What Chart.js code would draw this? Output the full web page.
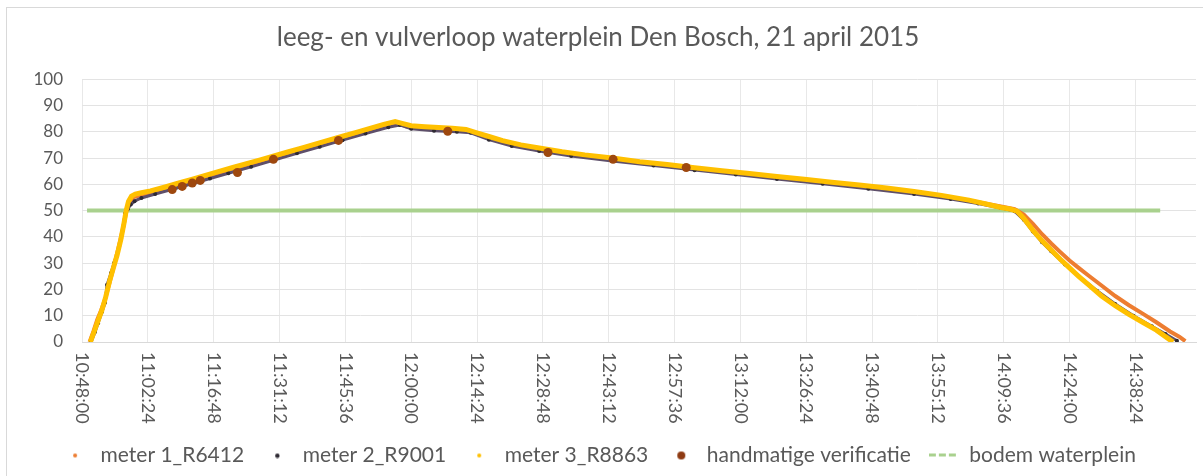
<!DOCTYPE html>
<html>
<head>
<meta charset="utf-8">
<script src="https://cdn.jsdelivr.net/npm/chart.js"></script>
<style>
  html, body { margin: 0; padding: 0; background: #fff; }
  canvas { display: block; }
</style>
</head>
<body>
<canvas id="line-chart" width="1203" height="476"></canvas>
<script>
// tijden (hh:mm:ss) en waterstanden
var meter1Tijd = ["10:49:40","10:50:30","10:51:20","10:52:10","10:53:00","10:54:00","10:55:00","10:56:00","10:57:00","10:57:40","10:58:20","10:59:10","11:01:00","11:05:00","11:10:00","11:15:00","11:20:00","11:25:00","11:30:00","11:35:00","11:40:00","11:45:00","11:50:00","11:55:00","11:57:00","11:59:00","12:04:00","12:10:00","12:13:00","12:17:00","12:22:00","12:28:00","12:35:00","12:44:00","12:53:00","13:02:00","13:11:00","13:20:00","13:30:00","13:40:00","13:50:00","13:58:00","14:04:00","14:09:00","14:12:00","14:14:00","14:16:00","14:18:00","14:20:00","14:22:00","14:24:00","14:26:00","14:28:00","14:31:00","14:34:00","14:37:00","14:40:00","14:43:00","14:46:00","14:48:00","14:49:20"];
var meter1Waarde = [0,4,8.5,12,16,22.5,29,36,43.5,49.5,53,55,56,57.8,60.2,62.8,65.4,67.8,70.2,72.7,75.2,77.6,80.2,82.6,83.3,82,81.2,80.7,80.2,77.8,75.3,73.3,71.5,69.6,67.9,66,64.3,62.6,60.9,59,57,55,53.2,51.6,50.6,48.5,45,41,37.5,34.2,31,28.2,25.5,21.5,17.5,14,10.8,7.5,4,2,0.3];

var meter2Tijd = ["10:50:00","10:50:51","10:51:30","10:52:23","10:53:02","10:53:29","10:54:21","10:55:01","10:55:40","10:56:07","10:56:33","10:57:00","10:57:25","10:58:00","10:58:40","10:59:30","11:01:00","11:04:00","11:08:00","11:12:00","11:16:00","11:20:00","11:25:00","11:30:00","11:35:00","11:40:00","11:45:00","11:50:00","11:55:00","11:57:30","12:00:00","12:05:00","12:10:00","12:13:00","12:17:00","12:22:00","12:28:00","12:35:00","12:44:00","12:53:00","13:02:00","13:11:00","13:20:00","13:30:00","13:40:00","13:50:00","13:58:00","14:04:00","14:09:00","14:12:00","14:14:00","14:16:00","14:18:00","14:20:00","14:23:00","14:26:00","14:30:00","14:34:00","14:38:00","14:42:00","14:45:00","14:47:30"];
var meter2Waarde = [0,3.8,7.1,11.5,14.9,21.8,26.3,30.1,33.2,36.3,39.3,43.9,48.9,50.5,52.3,53.6,54.8,56.3,58.2,60.2,62.2,64.2,66.7,69.2,71.8,74.3,76.8,79.3,81.7,82.6,81.1,80.4,80,79.6,77,74.6,72.7,70.8,68.9,67.2,65.4,63.7,62,60.2,58.3,56.3,54.4,52.7,51,49.8,46.5,42,38,34.5,29.5,25,19.5,14.5,10,6,3,0.5];

var meter3Tijd = ["10:49:50","10:50:40","10:51:30","10:52:20","10:53:10","10:54:00","10:54:50","10:55:40","10:56:30","10:57:10","10:57:40","10:58:10","10:58:50","10:59:40","11:01:00","11:03:00","11:06:00","11:09:00","11:12:00","11:15:00","11:18:00","11:21:00","11:24:00","11:27:00","11:30:00","11:33:00","11:36:00","11:39:00","11:42:00","11:45:00","11:48:00","11:51:00","11:54:00","11:56:30","11:58:00","12:00:00","12:03:00","12:06:00","12:09:00","12:12:00","12:14:00","12:17:00","12:20:00","12:24:00","12:28:00","12:33:00","12:38:00","12:44:00","12:50:00","12:56:00","13:02:00","13:08:00","13:14:00","13:20:00","13:26:00","13:32:00","13:38:00","13:44:00","13:50:00","13:56:00","14:02:00","14:06:00","14:09:00","14:11:00","14:12:30","14:14:00","14:16:00","14:18:00","14:20:00","14:22:00","14:24:00","14:26:00","14:28:00","14:31:00","14:34:00","14:37:00","14:40:00","14:43:00","14:45:50","14:46:40"];
var meter3Waarde = [0,4,8,12,17,23,28,33,39,45,50,53.5,55.5,56.3,56.8,57.5,58.9,60.4,61.9,63.4,64.9,66.4,67.9,69.3,70.8,72.3,73.8,75.3,76.8,78.3,79.8,81.3,82.8,83.9,83.2,82.3,81.9,81.6,81.3,80.9,79.8,78.2,76.6,75,73.8,72.4,71.2,70,68.6,67.5,66.3,65.2,64.1,63,61.9,60.8,59.7,58.6,57.3,55.8,54,52.4,51.2,50.6,49.8,47,42.5,38.5,35,31.5,28.2,25,22,17.5,13.8,10.5,7.5,4.5,1,0];

var handTijd = ["11:07:44","11:09:55","11:12:07","11:13:52","11:22:00","11:29:52","11:44:06","12:08:00","12:29:55","12:44:10","13:00:10"];
var handWaarde = [58,59.2,60.5,61.5,64.5,69.5,76.7,80.2,72.1,69.5,66.4];

var bodemTijd = ["10:49:06","14:43:50"];
var bodemWaarde = [50,50];

// labels onder de tijdas
var tijdLabels = ["10:48:00","11:02:24","11:16:48","11:31:12","11:45:36","12:00:00","12:14:24","12:28:48","12:43:12","12:57:36","13:12:00","13:26:24","13:40:48","13:55:12","14:09:36","14:24:00","14:38:24"];
var asStart = "10:48:00";
var asEind = "14:51:40";

function sec(t) {
  var p = t.split(":");
  return (+p[0]) * 3600 + (+p[1]) * 60 + (+p[2] || 0);
}
function tijdLabel(s) {
  s = Math.round(s);
  var h = Math.floor(s / 3600), m = Math.floor((s % 3600) / 60), x = s % 60;
  return h + ":" + String(m).padStart(2, "0") + ":" + String(x).padStart(2, "0");
}
function punten(tijden, waarden) {
  return tijden.map(function (t, i) { return { x: sec(t), y: waarden[i] }; });
}

// kleine markers voor de legenda
function marker(w, h, teken) {
  var c = document.createElement("canvas");
  c.width = w; c.height = h;
  teken(c.getContext("2d"), w, h);
  return c;
}
function rondje(kleur, r) {
  return marker(2 * r + 2, 2 * r + 2, function (g, w, h) {
    g.fillStyle = kleur; g.beginPath(); g.arc(w / 2, h / 2, r, 0, Math.PI * 2); g.fill();
  });
}
var legendaMarkers = [
  rondje("#ED7D31", 2),
  rondje("#2E2A33", 2.2),
  rondje("#FFC000", 2),
  rondje("#8E3A12", 4),
  marker(30, 6, function (g) {
    g.fillStyle = "#A9D18E";
    for (var i = 0; i < 3; i++) g.fillRect(i * 10, 1, 7, 3);
  })
];

var grijs = "#595959";
var font = "Lato, 'Noto Sans', sans-serif";

var extra = {
  id: "extra",
  beforeDraw: function (chart) {
    var g = chart.ctx;
    g.save();
    g.strokeStyle = "#D9D9D9";
    g.lineWidth = 1;
    g.strokeRect(6.5, 7.5, 1300, 600);
    g.restore();
  },
  afterDraw: function (chart) {
    // tijdlabels van boven naar beneden leesbaar, zoals in Excel
    var xs = chart.scales.x, g = chart.ctx;
    g.save();
    g.fillStyle = grijs;
    g.font = "18px " + font;
    g.textAlign = "left";
    g.textBaseline = "middle";
    xs.ticks.forEach(function (t) {
      var px = xs.getPixelForValue(t.value);
      g.save();
      g.translate(px, xs.top + 10);
      g.rotate(Math.PI / 2);
      g.fillText(tijdLabel(t.value), 0, 0);
      g.restore();
    });
    g.restore();
  }
};

new Chart(document.getElementById("line-chart"), {
  type: "scatter",
  data: {
    datasets: [{
      label: "meter 1_R6412",
      data: punten(meter1Tijd, meter1Waarde),
      showLine: true,
      borderColor: "#ED7D31",
      backgroundColor: "#ED7D31",
      borderWidth: 4,
      pointRadius: 0,
      order: 3
    }, {
      label: "meter 2_R9001",
      data: punten(meter2Tijd, meter2Waarde),
      showLine: true,
      borderColor: "#5E4F6A",
      backgroundColor: "#2E2A33",
      borderWidth: 3,
      pointRadius: 2,
      pointBorderWidth: 0,
      order: 2
    }, {
      label: "meter 3_R8863",
      data: punten(meter3Tijd, meter3Waarde),
      showLine: true,
      borderColor: "#FFC000",
      backgroundColor: "#FFC000",
      borderWidth: 5,
      pointRadius: 0,
      order: 1
    }, {
      label: "handmatige verificatie",
      data: punten(handTijd, handWaarde),
      showLine: false,
      borderColor: "#8E3A12",
      backgroundColor: "#9E480E",
      pointRadius: 4.5,
      pointBorderWidth: 0,
      order: 0
    }, {
      label: "bodem waterplein",
      data: punten(bodemTijd, bodemWaarde),
      showLine: true,
      borderColor: "#A9D18E",
      backgroundColor: "#A9D18E",
      borderWidth: 4,
      pointRadius: 0,
      order: 4
    }]
  },
  options: {
    responsive: false,
    animation: false,
    layout: { padding: { left: 0, right: 7, top: 0, bottom: 0 } },
    plugins: {
      title: {
        display: true,
        text: "leeg- en vulverloop waterplein Den Bosch, 21 april 2015",
        color: grijs,
        font: { family: font, size: 26, weight: "normal" },
        padding: { top: 22, bottom: 26 }
      },
      legend: {
        position: "bottom",
        labels: {
          usePointStyle: true,
          pointStyleWidth: 30,
          color: grijs,
          font: { family: font, size: 21 },
          padding: 18,
          sort: function (a, b) { return a.datasetIndex - b.datasetIndex; },
          generateLabels: function (chart) {
            var items = Chart.defaults.plugins.legend.labels.generateLabels(chart);
            items.forEach(function (it) { it.pointStyle = legendaMarkers[it.datasetIndex]; });
            return items;
          }
        }
      },
      tooltip: { enabled: false }
    },
    scales: {
      x: {
        type: "linear",
        min: sec(asStart),
        max: sec(asEind),
        afterBuildTicks: function (s) {
          s.ticks = tijdLabels.map(function (t) { return { value: sec(t) }; });
        },
        afterFit: function (s) { s.height = 85; },
        ticks: {
          minRotation: 90,
          maxRotation: 90,
          color: "rgba(0,0,0,0)",
          font: { family: font, size: 18 },
          callback: function (v) { return tijdLabel(v); }
        },
        grid: { color: "#E8E8E8", drawTicks: false },
        border: { color: "#D9D9D9" }
      },
      y: {
        min: 0,
        max: 100,
        afterFit: function (s) { s.width = 82; },
        ticks: {
          stepSize: 10,
          padding: 19,
          color: grijs,
          font: { family: font, size: 17 }
        },
        grid: { color: "#E3E3E3", drawTicks: false },
        border: { display: false }
      }
    }
  },
  plugins: [extra]
});
</script>
</body>
</html>
